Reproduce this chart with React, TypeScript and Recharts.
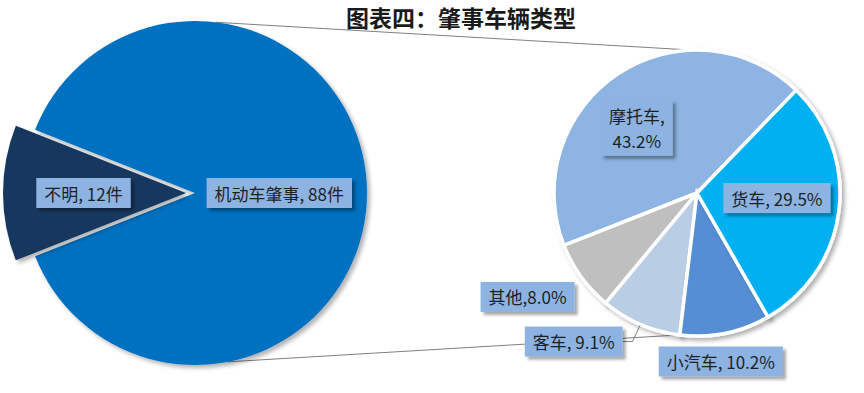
import React from 'react';
import { PieChart, Pie, Cell } from 'recharts';

// ---------- data ----------
const chartTitle = '图表四：肇事车辆类型';
const mainCategories = ['机动车肇事', '不明'];
const mainValues = [88, 12];
const mainUnit = '件';
const subCategories = ['摩托车', '其他', '客车', '小汽车', '货车'];
const subValues = [43.2, 8.0, 9.1, 10.2, 29.5];
const subSeparators = [',\n', ',', ', ', ', ', ', '];

const mainData = mainCategories.map((name, i) => ({ name, value: mainValues[i] }));
const subData = subCategories.map((name, i) => ({ name, value: subValues[i] }));
const mainLabels = mainCategories.map((n, i) => `${n}, ${mainValues[i]}${mainUnit}`);
const subLabels = subCategories.map((n, i) => `${n}${subSeparators[i]}${subValues[i].toFixed(1)}%`);

// ---------- style ----------
const W = 864;
const H = 393;
const FONT = "'Noto Sans CJK SC', 'Noto Sans', sans-serif";
const FS = 17;
const mainColors = ['#0070C0', '#17375E'];
const subColors = ['#8DB4E2', '#BFBFBF', '#B9CDE5', '#558ED5', '#00B0F0'];
const boxFill = '#8DB3E2';
const L = { cx: 195, cy: 193, r: 172 };
const LD = { cx: 186, cy: 193, r: 183 };
const R = { cx: 697, cy: 193, r: 143 };
const RAD = Math.PI / 180;
const polar = (cx: number, cy: number, r: number, a: number) => ({
  x: cx + r * Math.cos(a * RAD),
  y: cy - r * Math.sin(a * RAD),
});

const mainLabelPos = [
  { r: 0.49, da: 0 },
  { r: 0.56, da: 0 },
];
const subLabelPos = [
  { r: 0.62, da: 9 },
  { r: 1.39, da: -4.4 },
  { r: 1.35, da: -16.4, leader: true },
  { r: 1.19, da: -3.4 },
  { r: 0.56, da: 3.5 },
];

let ctx: CanvasRenderingContext2D | null = null;
const measure = (t: string) => {
  if (!ctx) {
    ctx = document.createElement('canvas').getContext('2d');
  }
  if (!ctx) return t.length * FS;
  ctx.font = `${FS}px ${FONT}`;
  return ctx.measureText(t).width;
};

const makeLabel = (texts: string[], pos: any[], only?: number) => (props: any) => {
  const { cx, cy, midAngle, outerRadius, index } = props;
  if (only !== undefined && index !== only) return null;
  const p = pos[index];
  const c = polar(cx, cy, outerRadius * p.r, midAngle + p.da);
  const lines = texts[index].split('\n');
  const padX = 8;
  const lineH = lines.length > 1 ? 25 : 30;
  const w = Math.max(...lines.map(measure)) + padX * 2;
  const h = lines.length * lineH + (lines.length > 1 ? 6 : 0);
  let leader = null;
  if (p.leader) {
    const e = polar(cx, cy, outerRadius + 1, midAngle);
    const sx = c.x + w / 2;
    leader = (
      <polyline
        points={`${sx},${c.y} ${sx + 10},${c.y} ${e.x},${e.y}`}
        fill="none"
        stroke="#7f7f7f"
        strokeWidth={1}
      />
    );
  }
  return (
    <g key={`lbl-${index}`}>
      {leader}
      <rect
        x={c.x - w / 2}
        y={c.y - h / 2}
        width={w}
        height={h}
        fill={boxFill}
        filter="url(#boxShadow)"
      />
      {lines.map((ln, i) => (
        <text
          key={i}
          x={c.x}
          y={c.y - h / 2 + (lines.length > 1 ? 3 : 0) + lineH * i + lineH / 2}
          textAnchor="middle"
          dominantBaseline="central"
          fontFamily={FONT}
          fontSize={FS}
          fill="#1f1f1f"
        >
          {ln}
        </text>
      ))}
    </g>
  );
};

export default function App() {
  const lt = polar(L.cx, L.cy, L.r, 83);
  const lb = polar(L.cx, L.cy, L.r, -79);
  const rt = polar(R.cx, R.cy, R.r, 92);
  const rb = polar(R.cx, R.cy, R.r, 263);
  return (
    <div style={{ position: 'absolute', left: 0, top: 0, width: W, height: H, background: '#fff' }}>
      <svg width={W} height={H} style={{ position: 'absolute', left: 0, top: 0 }}>
        <defs>
          <filter id="pieShadow" x="-20%" y="-20%" width="140%" height="140%">
            <feDropShadow dx="3" dy="3" stdDeviation="2" floodColor="#000" floodOpacity="0.3" />
          </filter>
          <filter id="boxShadow" x="-20%" y="-30%" width="140%" height="160%">
            <feDropShadow dx="3" dy="3" stdDeviation="1.5" floodColor="#000" floodOpacity="0.35" />
          </filter>
        </defs>
        <text
          x={461}
          y={17}
          textAnchor="middle"
          dominantBaseline="central"
          fontFamily={FONT}
          fontWeight="bold"
          fontSize={23}
          fill="#1a1a1a"
        >
          {chartTitle}
        </text>
        <line x1={lt.x} y1={lt.y} x2={rt.x} y2={rt.y} stroke="#808080" strokeWidth={1} />
        <line x1={lb.x} y1={lb.y} x2={rb.x} y2={rb.y} stroke="#808080" strokeWidth={1} />
      </svg>
      <div style={{ position: 'absolute', left: 0, top: 0 }}>
        <PieChart width={W} height={H} margin={{ top: 0, right: 0, bottom: 0, left: 0 }}>
          <Pie
            data={mainData}
            dataKey="value"
            nameKey="name"
            cx={L.cx}
            cy={L.cy}
            outerRadius={L.r}
            startAngle={-158.4}
            endAngle={201.6}
            stroke="none"
            isAnimationActive={false}
            labelLine={false}
            label={makeLabel(mainLabels, mainLabelPos, 0)}
          >
            {mainData.map((d, i) => (
              <Cell
                key={d.name}
                fill={i === 0 ? mainColors[0] : 'none'}
                filter={i === 0 ? 'url(#pieShadow)' : undefined}
              />
            ))}
          </Pie>
          <Pie
            data={mainData}
            dataKey="value"
            nameKey="name"
            cx={LD.cx}
            cy={LD.cy}
            outerRadius={LD.r}
            startAngle={-158.4}
            endAngle={201.6}
            stroke="none"
            isAnimationActive={false}
            labelLine={false}
            label={makeLabel(mainLabels, mainLabelPos, 1)}
          >
            {mainData.map((d, i) => (
              <Cell
                key={d.name}
                fill={i === 1 ? mainColors[1] : 'none'}
                filter={i === 1 ? 'url(#pieShadow)' : undefined}
              />
            ))}
          </Pie>
          <Pie
            data={subData}
            dataKey="value"
            nameKey="name"
            cx={R.cx}
            cy={R.cy}
            outerRadius={R.r}
            startAngle={46}
            endAngle={406}
            stroke="#fff"
            strokeWidth={3.5}
            isAnimationActive={false}
            labelLine={false}
            label={makeLabel(subLabels, subLabelPos)}
          >
            {subData.map((d, i) => (
              <Cell key={d.name} fill={subColors[i]} filter="url(#pieShadow)" />
            ))}
          </Pie>
        </PieChart>
      </div>
    </div>
  );
}
